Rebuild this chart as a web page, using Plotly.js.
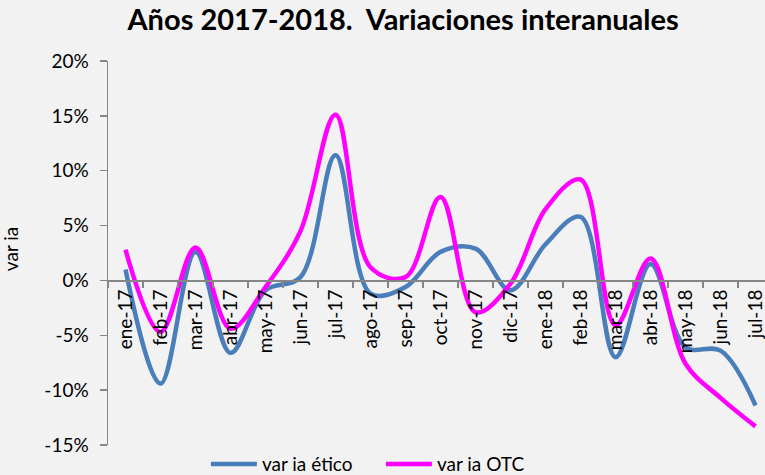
<!DOCTYPE html>
<html>
<head>
<meta charset="utf-8">
<script src="https://cdn.plot.ly/plotly-3.0.1.min.js"></script>
<style>
html,body{margin:0;padding:0;background:#f2f2f2;overflow:hidden;}
#chart{width:765px;height:475px;}
</style>
</head>
<body>
<div id="chart"></div>
<script>
const months = ['ene-17','feb-17','mar-17','abr-17','may-17','jun-17','jul-17','ago-17','sep-17','oct-17','nov-17','dic-17','ene-18','feb-18','mar-18','abr-18','may-18','jun-18','jul-18'];
const etico = [1.0, -9.4, 2.6, -6.6, -0.9, 0.3, 11.4, -1.2, -0.6, 2.6, 2.9, -0.9, 3.3, 5.8, -7.0, 1.5, -6.1, -6.4, -11.4];
const otc = [2.8, -4.7, 3.0, -4.4, -0.6, 4.5, 15.1, 1.2, 0.3, 7.6, -2.9, -0.3, 6.5, 9.2, -4.1, 2.0, -7.6, -10.7, -13.3];
const yTickVals = [-15, -10, -5, 0, 5, 10, 15, 20];
const yTickText = ['-15%', '-10%', '-5%', '0%', '5%', '10%', '15%', '20%'];
const seriesNames = ['var ia ético', 'var ia OTC'];
const titleText = '<b>Años 2017-2018.  Variaciones interanuales</b>';
const yTitle = 'var ia';

const font = 'Lato, "Open Sans", sans-serif';
const fs = 19;
const traces = [
  {x: months, y: etico, name: seriesNames[0], type: 'scatter', mode: 'lines',
   line: {color: '#4a7ebb', width: 4.5, shape: 'spline', smoothing: 1}},
  {x: months, y: otc, name: seriesNames[1], type: 'scatter', mode: 'lines',
   line: {color: '#ff00ff', width: 4.5, shape: 'spline', smoothing: 1}}
];
const layout = {
  width: 765, height: 475,
  paper_bgcolor: '#f2f2f2', plot_bgcolor: '#f2f2f2',
  margin: {l: 108, r: 0, t: 61, b: 30, autoexpand: false},
  font: {family: font, size: fs, color: '#000'},
  title: {text: titleText, font: {family: font, size: 29, color: '#000'},
          x: 0.527, xanchor: 'center', y: 0.958, yanchor: 'middle'},
  showlegend: true,
  legend: {orientation: 'h', x: 0.149, xanchor: 'left', y: -0.05, yanchor: 'middle',
           font: {family: font, size: fs, color: '#000'}, bgcolor: 'rgba(0,0,0,0)',
           tracegroupgap: 0, itemwidth: 46, entrywidth: 114, entrywidthmode: 'pixels'},
  xaxis: {type: 'category', range: [-0.5, 18.27], anchor: 'free', position: 15/35,
          showline: true, linecolor: '#868686', linewidth: 1.5,
          ticks: 'outside', tickson: 'boundaries', ticklen: 6, tickcolor: '#868686', tickwidth: 1.5,
          tickangle: -90, showgrid: false, zeroline: false,
          tickfont: {family: font, size: fs, color: '#000'}},
  yaxis: {range: [-15, 20], tickvals: yTickVals, ticktext: yTickText,
          showline: true, linecolor: '#868686', linewidth: 1.5,
          ticks: 'outside', ticklen: 7, tickcolor: '#868686', tickwidth: 1.5,
          ticklabelstandoff: 7,
          showgrid: false, zeroline: false,
          tickfont: {family: font, size: fs, color: '#000'}},
  annotations: [{text: yTitle, xref: 'paper', yref: 'paper', x: -98/657, y: 0.51,
                 xanchor: 'center', yanchor: 'middle', textangle: -90, showarrow: false,
                 font: {family: font, size: fs, color: '#000'}}]
};
Plotly.newPlot('chart', traces, layout, {displayModeBar: false, staticPlot: true});
</script>
</body>
</html>
